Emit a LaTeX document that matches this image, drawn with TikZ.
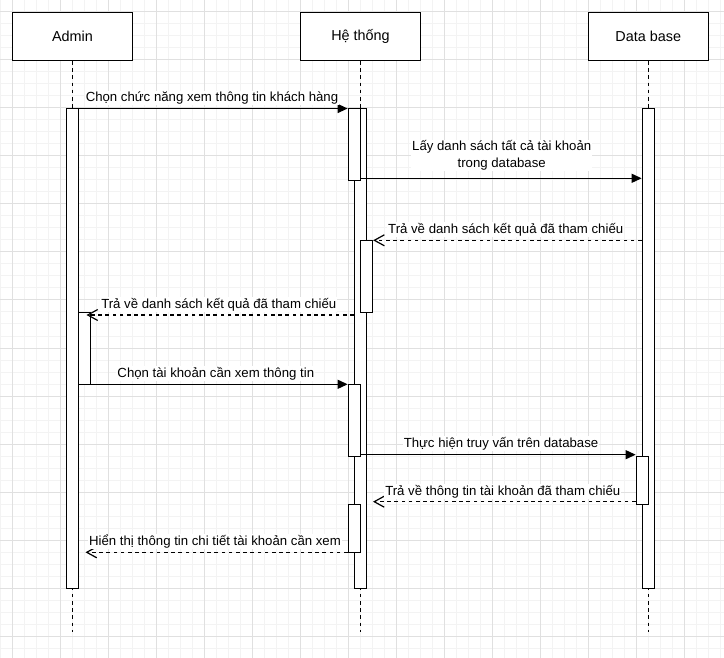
\documentclass[tikz,border=0pt]{standalone}
\usepackage{fontspec}
\setmainfont{Liberation Sans}
\usetikzlibrary{arrows.meta}
\definecolor{minorgrid}{HTML}{F3F3F3}
\definecolor{majorgrid}{HTML}{E0E0E0}
\tikzset{
  mingrid/.style={draw=minorgrid, line width=1pt},
  majgrid/.style={draw=majorgrid, line width=1pt},
  header/.style={draw, line width=1.3pt, fill=white, minimum width=120pt, minimum height=48pt, inner sep=0pt, font=\fontsize{14.4}{17}\selectfont},
  lifeline/.style={line width=1.3pt, dash pattern=on 3.6pt off 3.6pt},
  actbar/.style={draw, line width=1.3pt, fill=white, minimum width=12pt, inner sep=0pt},
  callmsg/.style={line width=1.3pt, -{Triangle[length=10pt,width=9pt]}},
  retmsg/.style={line width=1.3pt, dash pattern=on 3.6pt off 3.6pt, -{Straight Barb[length=10pt,width=11pt,line width=1.2pt]}},
  msglabel/.style={fill=white, inner sep=1pt, align=center, font=\fontsize{13.2}{16.7}\selectfont}
}
\begin{document}
\begin{tikzpicture}[x=1pt,y=-1pt]
\useasboundingbox (0,0) rectangle (724,658);
\fill[white] (0,0) rectangle (724,658);
% grid
\foreach \i in {0,...,60} \draw[mingrid] (\i*12,0) -- (\i*12,658);
\foreach \j in {0,...,54} \draw[mingrid] (0,\j*12) -- (724,\j*12);
\foreach \i in {0,...,14} \draw[majgrid] (12+\i*48,0) -- (12+\i*48,658);
\foreach \j in {0,...,13} \draw[majgrid] (0,12+\j*48) -- (724,12+\j*48);

% headers
\node[header] (admin) at (72.5,36.3) {\raisebox{-1pt}{Admin}};
\node[header] (sys) at (360.5,36.3) {\raisebox{-1pt}{Hệ thống}};
\node[header] (db) at (648.3,36.3) {\raisebox{-1pt}{Data base}};

% lifeline ends
\coordinate (adminEnd) at (72.5,632.3);
\coordinate (sysEnd) at (360.5,632.3);
\coordinate (dbEnd) at (648.3,632.3);
\draw[lifeline] (admin.south) -- (adminEnd);
\draw[lifeline] (sys.south) -- (sysEnd);
\draw[lifeline] (db.south) -- (dbEnd);

% activation bars
\node[actbar, minimum height=480pt] (aBar) at (72.5,348.3) {};
\node[actbar, minimum height=72pt] (aBar2) at (84.2,348.3) {};
\node[actbar, minimum height=480pt] (sBar) at (360.4,348.3) {};
\node[actbar, minimum height=72pt] (sBar1) at (354.3,144.3) {};
\node[actbar, minimum height=72pt] (sBar2) at (366.5,276.3) {};
\node[actbar, minimum height=72pt] (sBar3) at (354.3,420.3) {};
\node[actbar, minimum height=48pt] (sBar4) at (354.3,528.3) {};
\node[actbar, minimum height=480pt] (dBar) at (648.3,348.3) {};
\node[actbar, minimum height=48pt] (dBar2) at (642.3,480.3) {};

% message end points
\coordinate (t7) at (373,501.7);
\coordinate (t8) at (85.5,552.3);
\coordinate (t4) at (86.5,315);

% messages
\draw[callmsg] (aBar.east |- 0,108.5) -- (sBar1.west |- 0,108.5);
\draw[callmsg] (sBar1.east |- 0,178.3) -- (dBar.west |- 0,178.3);
\draw[retmsg] (dBar.west |- 0,240.3) -- (sBar2.east |- 0,240.3);
\draw[retmsg] (sBar.west |- 0,315) -- (t4);
\draw[callmsg] (aBar.east |- 0,384.3) -- (sBar3.west |- 0,384.3);
\draw[callmsg] (sBar3.east |- 0,454.7) -- (dBar2.west |- 0,454.7);
\draw[retmsg] (dBar2.west |- 0,501.7) -- (t7);
\draw[retmsg] (sBar4.west |- 0,552.3) -- (t8);

% labels
\node[msglabel] (l1) at (212,98) {Chọn chức năng xem thông tin khách hàng};
\node[msglabel] (l2) at (501.7,155.5) {Lấy danh sách tất cả tài khoản\\trong database};
\node[msglabel] (l3) at (505.7,229.8) {Trả về danh sách kết quả đã tham chiếu};
\node[msglabel] (l4) at (218.8,304.8) {Trả về danh sách kết quả đã tham chiếu};
\node[msglabel] (l5) at (215.8,373.8) {Chọn tài khoản cần xem thông tin};
\node[msglabel] (l6) at (501,443.8) {Thực hiện truy vấn trên database};
\node[msglabel] (l7) at (502.8,491.5) {Trả về thông tin tài khoản đã tham chiếu};
\node[msglabel] (l8) at (215,541.2) {Hiển thị thông tin chi tiết tài khoản cần xem};
\end{tikzpicture}
\end{document}
